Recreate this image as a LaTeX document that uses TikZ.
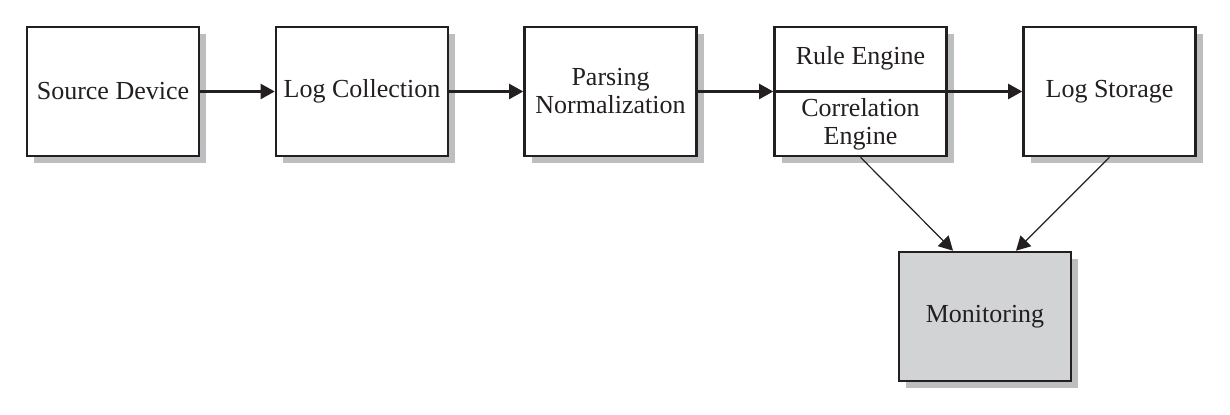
\documentclass[tikz,border=0pt]{standalone}
\usepackage{fontspec}
\setmainfont{Liberation Serif}
\usetikzlibrary{arrows.meta,shadows,calc}
\definecolor{ink}{HTML}{231F20}
\definecolor{shgray}{HTML}{BCBEC0}
\definecolor{mongray}{HTML}{D1D3D4}
\tikzset{
  box/.style={draw=ink, line width=1.3pt, fill=white, minimum width=86pt, minimum height=64.5pt,
    inner sep=0pt, align=center, text=ink, font=\fontsize{13}{14}\selectfont,
    general shadow={fill=shgray, shadow xshift=3.6pt, shadow yshift=-3.6pt}},
  lbl/.style={inner sep=0pt, align=center, text=ink, font=\fontsize{13}{14}\selectfont},
  harrow/.style={draw=ink, line width=1.1pt, -{Triangle[length=7pt,width=7.5pt]}},
  darrow/.style={draw=ink, line width=0.6pt, -{Triangle[length=7pt,width=7.5pt]}}
}
\begin{document}
\begin{tikzpicture}[x=0.5pt,y=-0.5pt]
\useasboundingbox (0,0) rectangle (1230,415);
\node[box] (sd) at (113,91.5) {Source Device};
\node[box] (lc) at (362,91.5) {\raisebox{1.5pt}{Log Collection}};
\node[box] (pn) at (610.5,91.5) {Parsing\\Normalization};
\node[box] (re) at (860.5,91.5) {};
\node[box] (ls) at (1109.5,91.5) {\raisebox{1.5pt}{Log Storage}};
\node[box, fill=mongray] (mon) at (985,316.5) {Monitoring};
\node[lbl] (rt) at (860.5,58) {Rule Engine};
\node[lbl] (ct) at (860.5,124) {Correlation\\Engine};
\draw[harrow] (sd.east) -- (lc.west);
\draw[harrow] (lc.east) -- (pn.west);
\draw[harrow] (pn.east) -- (re.west);
\draw[harrow] (re.west) -- (ls.west);
\draw[darrow] (re.south) -- ($(mon.north)+(-32,0)$);
\draw[darrow] (ls.south) -- ($(mon.north)+(31,0)$);
\end{tikzpicture}
\end{document}
